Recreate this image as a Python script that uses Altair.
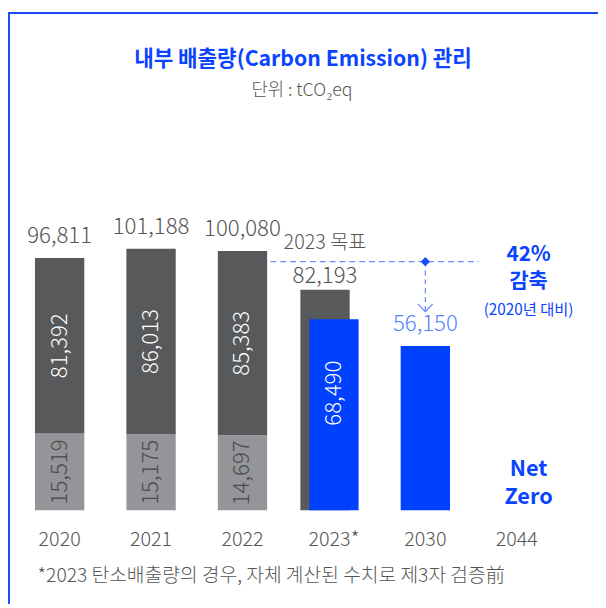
import altair as alt
import pandas as pd

# ---------------- data ----------------
years = ["2020", "2021", "2022", "2023*", "2030", "2044"]
hist_years = ["2020", "2021", "2022"]
scope_light = [15519, 15175, 14697]
scope_dark = [81392, 86013, 85383]
hist_totals = [96811, 101188, 100080]
target_2023 = 82193
actual_2023 = 68490
target_2030 = 56150
base_2020 = 96811

TITLE = "내부 배출량(Carbon Emission) 관리"
SUBTITLE = "단위 : tCO₂eq"
FOOTNOTE = "*2023 탄소배출량의 경우, 자체 계산된 수치로 제3자 검증前"

# scale floor (the reference draws bars from a raised baseline)
Y_FLOOR = -20000
Y_MAX = 140000

FONT = "Noto Sans CJK KR"
DARK = "#58595B"
LIGHT = "#939598"
BLUE = "#0041FF"
TXT = "#555555"
LBLUE = "#5580FF"
ABLUE = "#0A44FF"

# ---------------- tables ----------------
light_df = pd.DataFrame({
    "year": hist_years,
    "y0": [Y_FLOOR] * 3,
    "y1": scope_light,
    "mid": [(Y_FLOOR + v) / 2 for v in scope_light],
    "label": [f"{v:,}" for v in scope_light],
})
dark_df = pd.DataFrame({
    "year": hist_years,
    "y0": scope_light,
    "y1": [l + d for l, d in zip(scope_light, scope_dark)],
    "mid": [l + d / 2 for l, d in zip(scope_light, scope_dark)],
    "label": [f"{v:,}" for v in scope_dark],
})
tot_df = pd.DataFrame({"year": hist_years, "top": [l + d for l, d in zip(scope_light, scope_dark)],
                       "label": [f"{v:,}" for v in hist_totals]})
tgt23_df = pd.DataFrame({"year": ["2023*"], "v": [target_2023], "floor": [Y_FLOOR],
                         "label": [f"{target_2023:,}"]})
blue_df = pd.DataFrame({"year": ["2023*", "2030"], "v": [actual_2023, target_2030], "floor": [Y_FLOOR] * 2})
act23_df = pd.DataFrame({"year": ["2023*"], "mid": [actual_2023 / 2], "label": [f"{actual_2023:,}"]})
t30_df = pd.DataFrame({"year": ["2030"], "v": [target_2030], "label": [f"{target_2030:,}"]})
pct = round((1 - target_2030 / base_2020) * 100)
ann_df = pd.DataFrame({"year": ["2044"]})
a30_df = pd.DataFrame({"year": ["2030"]})
one = pd.DataFrame({"k": [0]})

xs = alt.X("year:N", sort=years,
           scale=alt.Scale(domain=years, paddingInner=0, paddingOuter=0),
           axis=alt.Axis(title=None, labelFontSize=20, labelColor=TXT, labelFont=FONT, labelFontWeight=300,
                         domain=False, ticks=False, grid=False, labelPadding=20, labelAngle=0))
ysc = alt.Scale(domain=[Y_FLOOR, Y_MAX], nice=False, zero=False)


def Y(f):
    return alt.Y(f, scale=ysc, axis=None)


# border lines (frame)
left_border = alt.Chart(one).mark_rule(color="#1A4BFF", strokeWidth=2).encode(
    x=alt.value(-5), y=alt.value(-155), y2=alt.value(445))
top_border = alt.Chart(one).mark_rule(color="#1A4BFF", strokeWidth=2).encode(
    x=alt.value(-6), x2=alt.value(600), y=alt.value(-154))

# title + subtitle as text
title_t = alt.Chart(one).mark_text(fontSize=21.5, font=FONT, fontWeight="bold", color=ABLUE,
                                   align="center", baseline="middle").encode(
    x=alt.value(293), y=alt.value(-106), text=alt.value(TITLE))
sub_t = alt.Chart(one).mark_text(fontSize=18, font=FONT, fontWeight=300, color=TXT,
                                 align="center", baseline="middle").encode(
    x=alt.value(292), y=alt.value(-75), text=alt.value(SUBTITLE))

# dashed reference line + arrow
hline = alt.Chart(one).mark_rule(color="#6B8CFF", strokeWidth=1.5, strokeDash=[6, 4]).encode(
    x=alt.value(250), x2=alt.value(471), y=alt.value(98))
vline = alt.Chart(a30_df).mark_rule(color="#6B8CFF", strokeWidth=1.3, strokeDash=[5, 4]).encode(
    x=xs, y=alt.value(98), y2=alt.value(149))
chevron = alt.Chart(a30_df).mark_point(
    shape="M-1,-0.55L0,0.5L1,-0.55", filled=False, size=225, color="#6B8CFF", strokeWidth=1.3, opacity=1).encode(
    x=xs, y=alt.value(145))
diamond = alt.Chart(a30_df).mark_point(
    shape="diamond", filled=True, size=90, color="#1A4BFF", opacity=1).encode(x=xs, y=alt.value(98))

light_bars = alt.Chart(light_df).mark_bar(size=50, color=LIGHT).encode(x=xs, y=Y("y0:Q"), y2="y1:Q")
dark_bars = alt.Chart(dark_df).mark_bar(size=50, color=DARK).encode(x=xs, y=Y("y0:Q"), y2="y1:Q")
tgt23_bar = alt.Chart(tgt23_df).mark_bar(size=50, color=DARK, xOffset=-9).encode(x=xs, y=Y("v:Q"), y2="floor:Q")
blue_bars = alt.Chart(blue_df).mark_bar(size=50, color=BLUE).encode(x=xs, y=Y("v:Q"), y2="floor:Q")

NUMW = 300
NS = 22.5
light_text = alt.Chart(light_df).mark_text(angle=270, fontSize=NS, font=FONT, fontWeight=NUMW, baseline="middle",
                                           align="center", color="#4A4A4A").encode(x=xs, y=Y("mid:Q"), text="label:N")
dark_text = alt.Chart(dark_df).mark_text(angle=270, fontSize=NS, font=FONT, fontWeight=NUMW, baseline="middle",
                                         align="center", color="#FFFFFF").encode(x=xs, y=Y("mid:Q"), text="label:N")
tot_text = alt.Chart(tot_df).mark_text(fontSize=NS, font=FONT, fontWeight=NUMW, dy=-15, baseline="alphabetic",
                                       color=TXT).encode(x=xs, y=Y("top:Q"), text="label:N")
tgt23_text = alt.Chart(tgt23_df).mark_text(fontSize=NS, font=FONT, fontWeight=NUMW, dy=-7, xOffset=-9,
                                           baseline="alphabetic", color=TXT).encode(
    x=xs, y=Y("v:Q"), text="label:N")
tgt23_cap = alt.Chart(tgt23_df).mark_text(fontSize=20, font=FONT, fontWeight=NUMW, dy=-41, xOffset=-9,
                                          baseline="alphabetic", color=TXT).encode(
    x=xs, y=Y("v:Q"), text=alt.value("2023 목표"))
act23_text = alt.Chart(act23_df).mark_text(angle=270, fontSize=NS, font=FONT, fontWeight=NUMW, baseline="middle",
                                           color="#FFFFFF").encode(x=xs, y=Y("mid:Q"), text="label:N")
t30_text = alt.Chart(t30_df).mark_text(fontSize=NS, font=FONT, fontWeight=NUMW, dy=-15, baseline="alphabetic",
                                       color=LBLUE).encode(x=xs, y=Y("v:Q"), text="label:N")

ann = alt.Chart(ann_df)
pct_text = ann.mark_text(fontSize=21, font=FONT, fontWeight="bold", color=ABLUE, dx=12, baseline="middle").encode(
    x=xs, y=alt.value(91), text=alt.value(f"{pct}%"))
cut_text = ann.mark_text(fontSize=21, font=FONT, fontWeight="bold", color=ABLUE, dx=12, baseline="middle").encode(
    x=xs, y=alt.value(119), text=alt.value("감축"))
vs_text = ann.mark_text(fontSize=15.5, font=FONT, color=ABLUE, dx=12, baseline="middle").encode(
    x=xs, y=alt.value(147), text=alt.value("(2020년 대비)"))
net_text = ann.mark_text(fontSize=22, font=FONT, fontWeight="bold", color=ABLUE, dx=12, baseline="middle").encode(
    x=xs, y=alt.value(308), text=alt.value("Net"))
zero_text = ann.mark_text(fontSize=22, font=FONT, fontWeight="bold", color=ABLUE, dx=12, baseline="middle").encode(
    x=xs, y=alt.value(337), text=alt.value("Zero"))

foot = alt.Chart(one).mark_text(fontSize=19.5, font=FONT, fontWeight=300, color=TXT, align="left",
                                baseline="middle").encode(
    x=alt.value(24), y=alt.value(417), text=alt.value(FOOTNOTE))

chart = alt.layer(
    left_border, top_border, title_t, sub_t, hline, vline, chevron, diamond,
    light_bars, dark_bars, tgt23_bar, blue_bars,
    light_text, dark_text, tot_text, tgt23_text, tgt23_cap, act23_text, t30_text,
    pct_text, cut_text, vs_text, net_text, zero_text, foot,
).properties(
    width=556, height=350,
    autosize=alt.AutoSizeParams(type="none"),
    padding={"left": 6, "top": 155, "right": 36, "bottom": 95},
).configure_view(stroke=None)

chart.save("out.html", embed_options={"renderer": "svg", "actions": False})
